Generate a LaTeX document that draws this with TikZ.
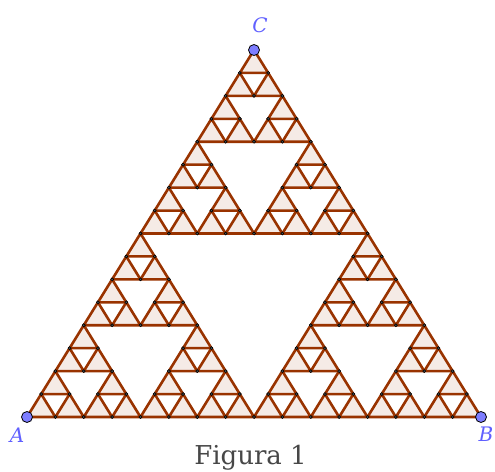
\documentclass[tikz,border=0pt]{standalone}
\usepackage{fontspec}
\newfontfamily\capfont{DejaVu Serif}
\definecolor{edge}{RGB}{153,51,0}
\definecolor{tfill}{RGB}{245,235,230}
\definecolor{ptblue}{RGB}{125,125,255}
\definecolor{lblblue}{RGB}{96,96,255}
\newcommand{\sierloop}[1]{%
  \foreach \a in {0,1,2}{\foreach \b in {0,1,2}{\foreach \c in {0,1,2}{\foreach \d in {0,1,2}{%
    \pgfmathtruncatemacro\ii{8*(\a==1)+4*(\b==1)+2*(\c==1)+(\d==1)}%
    \pgfmathtruncatemacro\jj{8*(\a==2)+4*(\b==2)+2*(\c==2)+(\d==2)}%
    #1%
  }}}}%
}
\newcommand{\lblfont}{\capfont\itshape\fontsize{20}{20}\selectfont}
\begin{document}
\begin{tikzpicture}[x=1pt,y=1pt,
  trifill/.style={fill=tfill},
  triedge/.style={draw=edge,line width=2.6pt,line join=round},
  vdot/.style={fill=black!65,draw=black,line width=0.5pt},
  bpt/.style={circle,minimum size=11pt,inner sep=0pt,fill=ptblue,draw=black,line width=0.8pt},
  lbl/.style={text=lblblue,font=\lblfont,inner sep=0pt}]
\useasboundingbox (0,0) rectangle (495,471);
\begin{scope}[shift={(27,54)}, x={(28.375pt,0pt)}, y={(14.1875pt,22.9375pt)}]
  \sierloop{\fill[trifill] (\ii,\jj) -- (\ii+1,\jj) -- (\ii,\jj+1) -- cycle;}
  \sierloop{\draw[triedge] (\ii,\jj) -- (\ii+1,\jj) -- (\ii,\jj+1) -- cycle;}
  \sierloop{\filldraw[vdot] (\ii,\jj) circle[radius=1.4pt] (\ii+1,\jj) circle[radius=1.4pt] (\ii,\jj+1) circle[radius=1.4pt];}
\end{scope}
\node[bpt] (A) at (27,54) {};
\node[bpt] (B) at (481,54) {};
\node[bpt] (C) at (254,421) {};
\node[lbl] (la) at (17,36) {A};
\node[lbl] (lb) at (486,37) {B};
\node[lbl] (lc) at (260,446) {C};
\node[font=\capfont\fontsize{26}{26}\selectfont,text=black!72,anchor=base,inner sep=0pt] (fig) at (250.5,6) {Figura 1};
\end{tikzpicture}
\end{document}
